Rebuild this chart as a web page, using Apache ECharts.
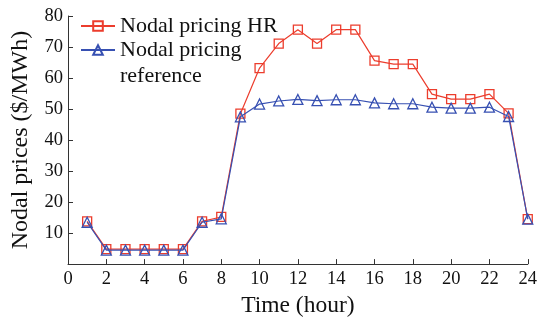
<!DOCTYPE html>
<html>
<head>
<meta charset="utf-8">
<script src="https://cdn.jsdelivr.net/npm/echarts@6/dist/echarts.min.js"></script>
<style>
  html, body { margin: 0; padding: 0; background: #fff; }
  #chart { width: 540px; height: 323px; }
</style>
</head>
<body>
<div id="chart"></div>
<script>
// Hourly nodal prices ($/MWh) over one day
const hours = [1, 2, 3, 4, 5, 6, 7, 8, 9, 10, 11, 12, 13, 14, 15, 16, 17, 18, 19, 20, 21, 22, 23, 24];
const pricingHR = [13.8, 4.8, 4.8, 4.8, 4.8, 4.8, 13.8, 15.2, 48.5, 63.2, 71.1, 75.6, 71.1, 75.6, 75.6, 65.6, 64.5, 64.5, 54.8, 53.2, 53.2, 54.8, 48.6, 14.5];
const pricingRef = [13.5, 4.5, 4.5, 4.5, 4.5, 4.5, 13.5, 14.6, 47.5, 51.6, 52.6, 53.1, 52.7, 53.0, 53.0, 52.0, 51.7, 51.7, 50.6, 50.3, 50.3, 50.6, 47.6, 14.5];
const seriesNames = ['Nodal pricing HR', 'Nodal pricing reference'];
const xTicks = { min: 0, max: 24, step: 2 };
const yTicks = { min: 0, max: 80, step: 10 };

const RED = '#ec3d2d';
const BLUE = '#3750b2';
const FONT = 'Liberation Serif';
const LEGEND_LINE = 26;

const toPairs = (vals) => hours.map((h, i) => [h, vals[i]]);

// The second legend label wraps onto two lines; an empty leading line keeps
// the icon (centred on the label block) level with "Nodal pricing".
const legendLabel = (name) =>
  name === seriesNames[1] ? '{s| }\n{t|Nodal pricing}\n{t|reference}' : name;

const chart = echarts.init(document.getElementById('chart'), null, { renderer: 'canvas' });
chart.setOption({
  animation: false,
  backgroundColor: '#fff',
  textStyle: { fontFamily: FONT, color: '#111' },
  grid: { left: 68, right: 12, top: 16, bottom: 56, containLabel: false },
  legend: {
    left: 75,
    top: 6,
    orient: 'vertical',
    itemWidth: 34,
    itemHeight: 12,
    itemGap: -28,
    data: seriesNames,
    formatter: legendLabel,
    textStyle: {
      fontFamily: FONT, fontSize: 22, color: '#111', lineHeight: LEGEND_LINE,
      rich: {
        s: { fontFamily: FONT, fontSize: 22, lineHeight: LEGEND_LINE },
        t: { fontFamily: FONT, fontSize: 22, lineHeight: LEGEND_LINE, color: '#111' }
      }
    }
  },
  xAxis: {
    type: 'value',
    min: xTicks.min,
    max: xTicks.max,
    interval: xTicks.step,
    name: 'Time (hour)',
    nameLocation: 'middle',
    nameGap: 28,
    nameTextStyle: { fontFamily: FONT, fontSize: 23.5, color: '#111' },
    axisLine: { show: true, onZero: false, lineStyle: { color: '#333', width: 1 } },
    axisTick: { show: true, inside: true, length: 5, lineStyle: { color: '#333' } },
    axisLabel: { fontFamily: FONT, fontSize: 18.5, color: '#111', margin: 6 },
    splitLine: { show: false }
  },
  yAxis: {
    type: 'value',
    min: yTicks.min,
    max: yTicks.max,
    interval: yTicks.step,
    name: 'Nodal prices ($/MWh)',
    nameLocation: 'middle',
    nameGap: 35,
    nameTextStyle: { fontFamily: FONT, fontSize: 24, color: '#111' },
    axisLine: { show: true, lineStyle: { color: '#333', width: 1 } },
    axisTick: { show: true, inside: true, length: 5, lineStyle: { color: '#333' } },
    axisLabel: {
      fontFamily: FONT, fontSize: 18.5, color: '#111', margin: 5,
      formatter: (v) => v === 0 ? '' : String(v)
    },
    splitLine: { show: false }
  },
  series: [
    {
      name: seriesNames[0],
      type: 'line',
      data: toPairs(pricingHR),
      symbol: 'rect',
      symbolSize: 9,
      showAllSymbol: true,
      lineStyle: { color: RED, width: 1.2 },
      itemStyle: { color: 'rgba(255,255,255,0)', borderColor: RED, borderWidth: 1.3 },
      z: 2
    },
    {
      name: seriesNames[1],
      type: 'line',
      data: toPairs(pricingRef),
      symbol: 'triangle',
      symbolSize: 10,
      showAllSymbol: true,
      lineStyle: { color: BLUE, width: 1.2 },
      itemStyle: { color: 'rgba(255,255,255,0)', borderColor: BLUE, borderWidth: 1.3 },
      z: 3
    }
  ]
});
</script>
</body>
</html>
